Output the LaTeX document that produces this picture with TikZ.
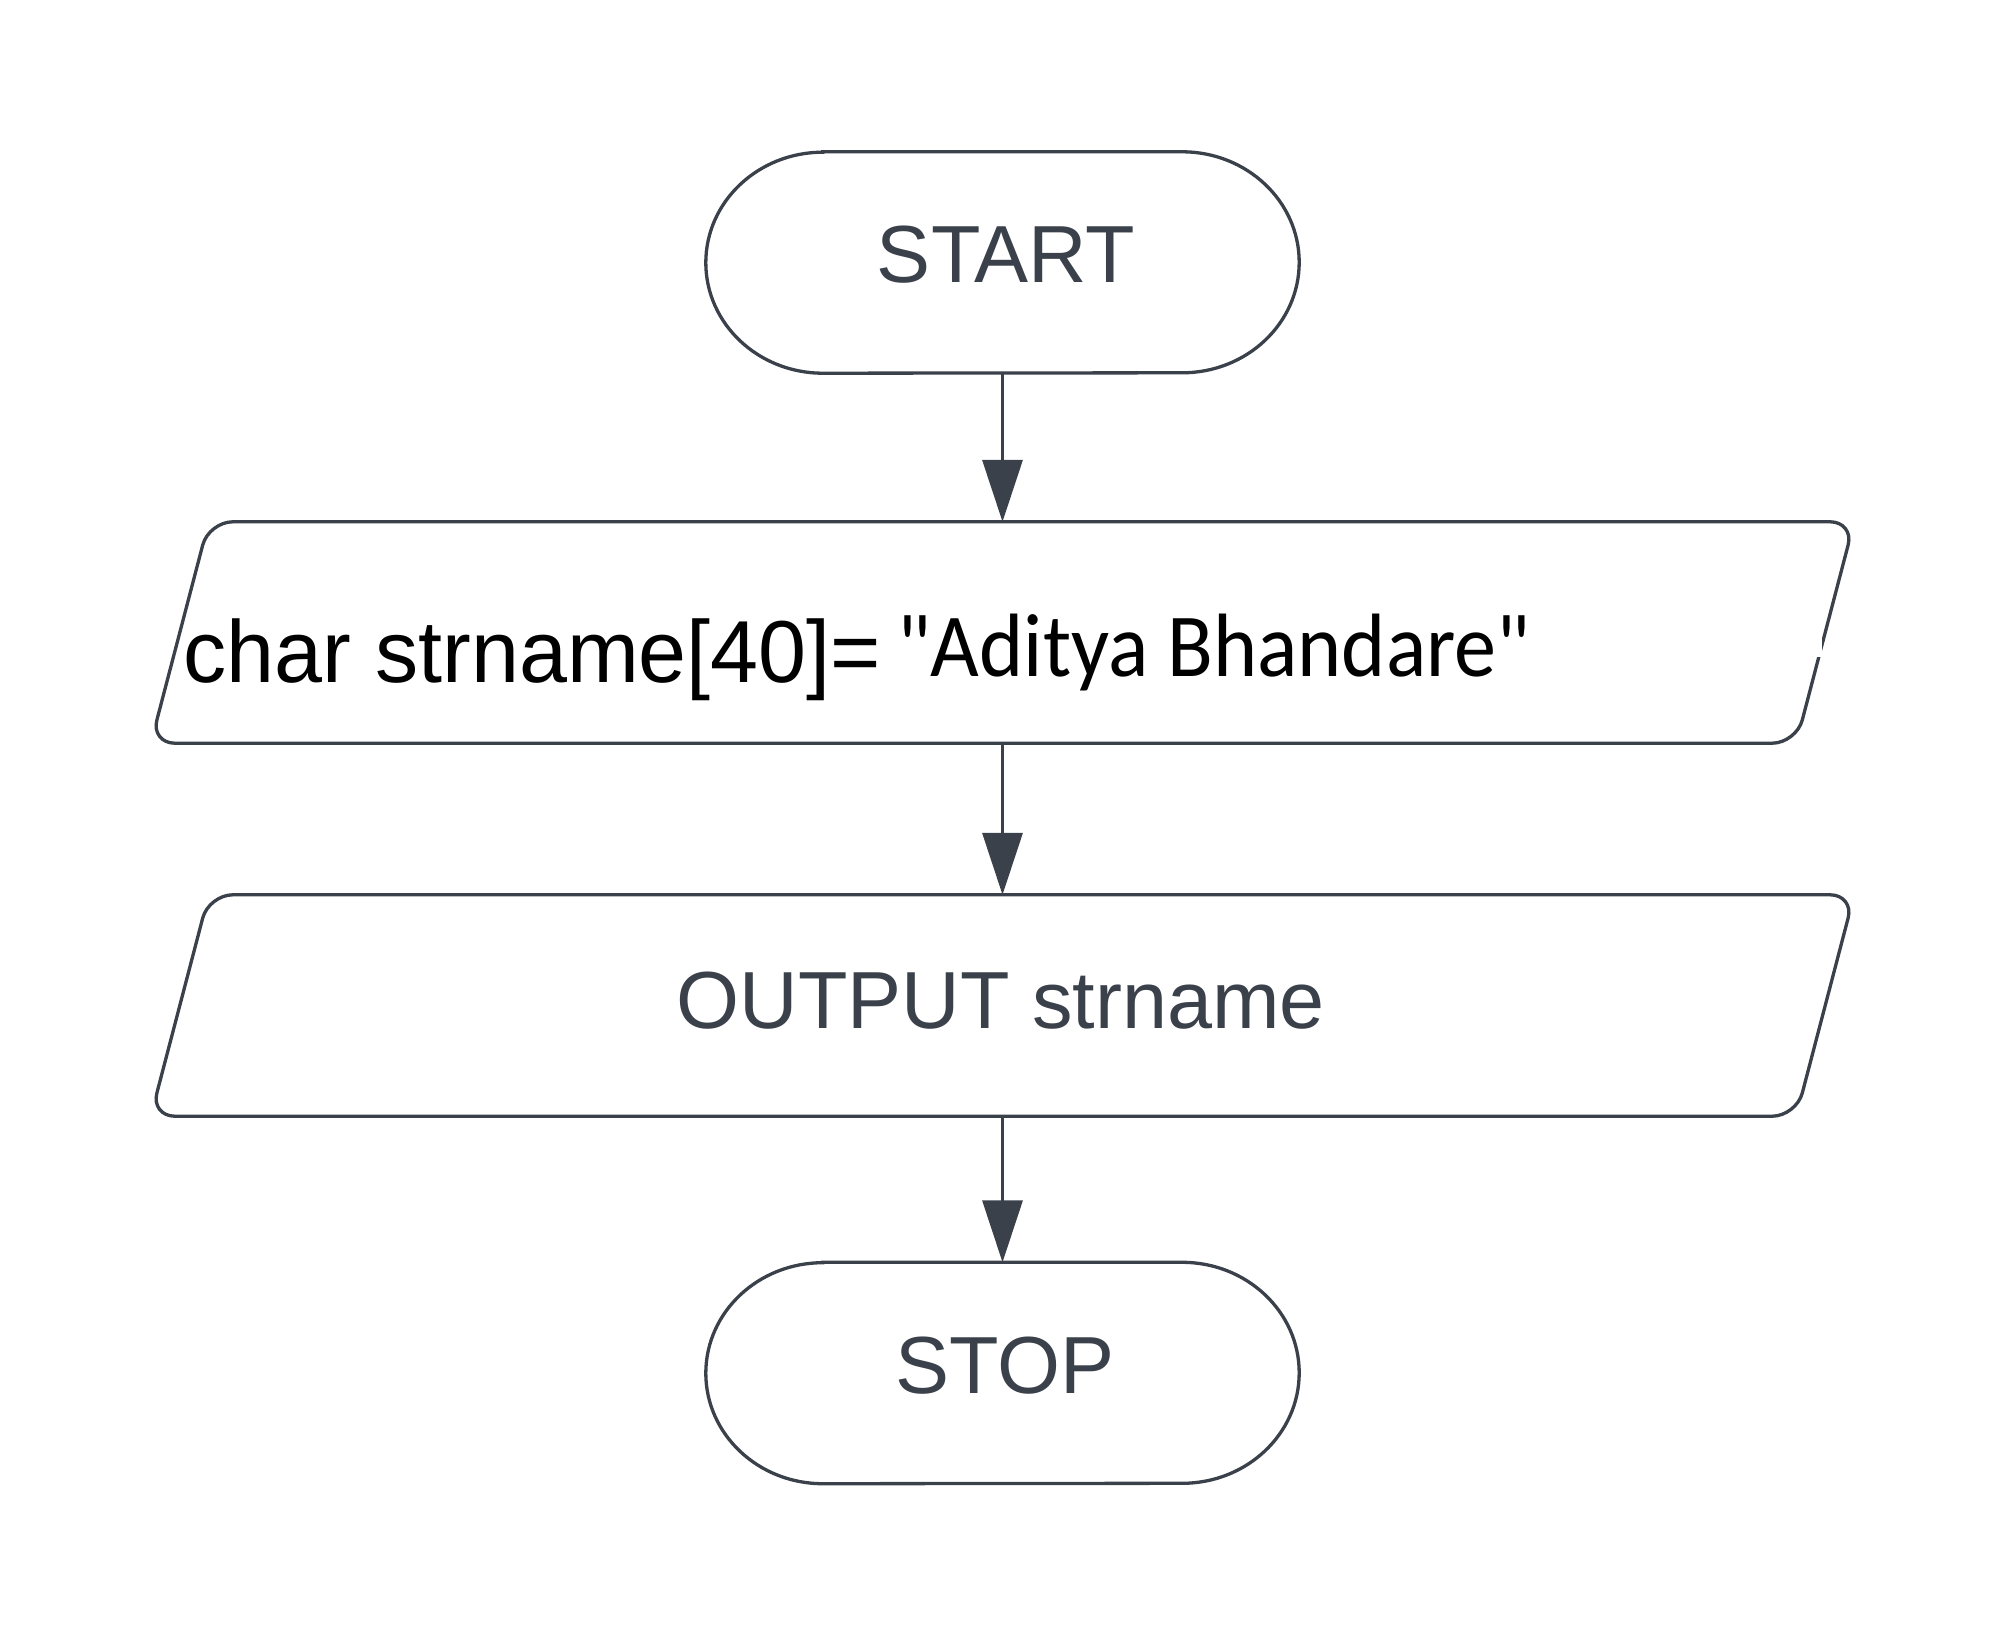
\documentclass[tikz,border=0pt]{standalone}
\usepackage{fontspec}
\setmainfont{Liberation Sans}
\newfontfamily\calib[FakeStretch=0.935]{Carlito}
\newfontfamily\arialn[FakeStretch=0.98]{Liberation Sans}
\usetikzlibrary{arrows.meta}
\definecolor{ink}{HTML}{3B414A}
\begin{document}
\begin{tikzpicture}[x=1pt,y=-1pt,
  outline/.style={draw=ink, line width=3.3pt},
  holder/.style={draw=none, inner sep=0pt, minimum width=#1, minimum height=221pt},
  flow/.style={draw=ink, line width=3.3pt, -{Triangle[width=40pt,length=62pt]}},
  lbl/.style={inner sep=0pt, anchor=base, text=ink, font=\fontsize{81}{90}\selectfont}
]
\useasboundingbox (0,0) rectangle (2000,1629);
% holders
\node[holder=593pt] (start) at (1002.5,262.5) {};
\node[holder=1703pt] (in) at (1002.5,632.5) {};
\node[holder=1703pt] (out) at (1002.5,1005.5) {};
\node[holder=593pt] (stop) at (1002.5,1373) {};
% terminals
\draw[outline] ([xshift=117pt]start.north west) -- ([xshift=-117pt]start.north east)
  arc[start angle=90,end angle=-90,x radius=117pt,y radius=110.5pt]
  -- ([xshift=117pt]start.south west)
  arc[start angle=270,end angle=90,x radius=117pt,y radius=110.5pt] -- cycle;
\draw[outline] ([xshift=117pt]stop.north west) -- ([xshift=-117pt]stop.north east)
  arc[start angle=90,end angle=-90,x radius=117pt,y radius=110.5pt]
  -- ([xshift=117pt]stop.south west)
  arc[start angle=270,end angle=90,x radius=117pt,y radius=110.5pt] -- cycle;
% parallelograms
\draw[outline, rounded corners=24pt] ([xshift=58pt]in.north west) -- (in.north east)
  -- ([xshift=-58pt]in.south east) -- (in.south west) -- cycle;
\draw[outline, rounded corners=24pt] ([xshift=58pt]out.north west) -- (out.north east)
  -- ([xshift=-58pt]out.south east) -- (out.south west) -- cycle;
\fill[white] (1515,600) rectangle (1822,657);
% connectors
\draw[flow] (start.south) -- (in.north);
\draw[flow] (in.south) -- (out.north);
\draw[flow] (out.south) -- (stop.north);
% texts
\node[lbl] (tstart) at (1006,283) {START};
\node[inner sep=0pt, anchor=base west, text=black, font=\arialn\fontsize{88}{96}\selectfont] (tdecl) at (183.5,682) {char strname[40]=};
\node[inner sep=0pt, anchor=base west, text=black, font=\calib\fontsize{90}{96}\selectfont] (tname) at (897,676) {"Aditya Bhandare"};
\node[lbl] (tout) at (1001,1028) {OUTPUT strname};
\node[lbl] (tstop) at (1005,1393) {STOP};
\end{tikzpicture}
\end{document}
